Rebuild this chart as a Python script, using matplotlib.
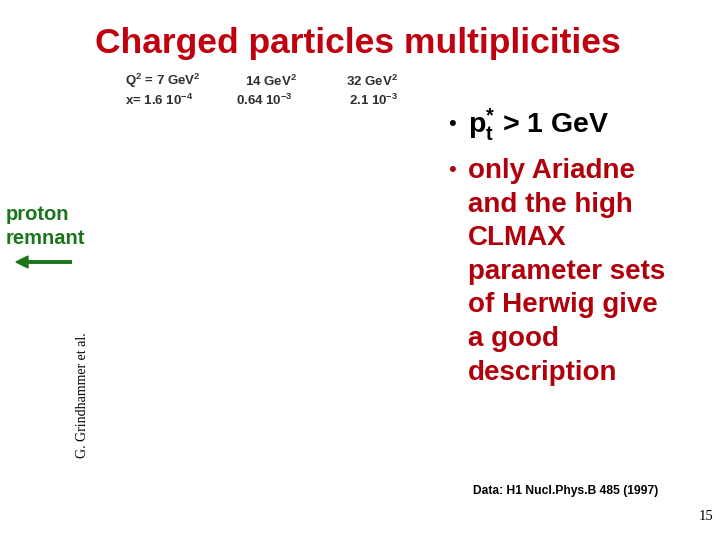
import matplotlib
matplotlib.use('Agg')
import matplotlib.pyplot as plt

W, H = 720, 540

TITLE = 'Charged particles multiplicities'
Q2_LABELS = [r'Q$^{2}$ = 7 GeV$^{2}$', r'14 GeV$^{2}$', r'32 GeV$^{2}$']
X_LABELS = [r'x= 1.6 10$^{-4}$', r'0.64 10$^{-3}$', r'2.1 10$^{-3}$']
BULLET_1 = r'$\mathbf{p^{*}_{t}}$ > 1 GeV'
BULLET_2 = ['only Ariadne', 'and the high', 'CLMAX', 'parameter sets',
            'of Herwig give', 'a good', 'description']
REMNANT = ['proton', 'remnant']
AUTHOR = 'G. Grindhammer et al.'
SOURCE = 'Data: H1 Nucl.Phys.B 485 (1997)'
PAGE = '15'

RED = '#c0000f'
DARKRED = '#b0000c'
GREEN = '#1b761b'
SANS = ['Liberation Sans', 'DejaVu Sans']
SERIF = ['Liberation Serif', 'DejaVu Serif']

plt.rcParams['mathtext.fontset'] = 'custom'
plt.rcParams['mathtext.bf'] = 'Liberation Sans:bold'
plt.rcParams['mathtext.rm'] = 'Liberation Sans:bold'
plt.rcParams['mathtext.default'] = 'rm'


def px(x, y):
    # pixel coords (top-left origin) -> figure fraction
    return x / W, 1 - y / H


fig = plt.figure(figsize=(7.2, 5.4), dpi=100)
fig.patch.set_facecolor('white')

fig.text(*px(358, 44), TITLE, ha='center', va='center', fontsize=25.5,
         fontweight='bold', color=RED, family=SANS)

q2_x = [125, 245, 346]
xl_x = [125, 236, 349]
for i in range(3):
    fig.text(*px(q2_x[i], 81), Q2_LABELS[i], ha='left', va='center', fontsize=9.5,
             fontweight='bold', color='#303030', family=SANS)
    fig.text(*px(xl_x[i], 100), X_LABELS[i], ha='left', va='center', fontsize=9.5,
             fontweight='bold', color='#303030', family=SANS)

fig.text(*px(448, 125), '\u2022', ha='left', va='center', fontsize=16,
         color='black', family=SANS)
fig.text(*px(468, 125), BULLET_1, ha='left', va='center', fontsize=20.5,
         fontweight='bold', color='black', family=SANS)

fig.text(*px(448, 171), '\u2022', ha='left', va='center', fontsize=16,
         color=DARKRED, family=SANS)
for i, line in enumerate(BULLET_2):
    fig.text(*px(468, 171 + i * 33.6), line, ha='left', va='center', fontsize=20,
             fontweight='bold', color=DARKRED, family=SANS)

for i, line in enumerate(REMNANT):
    fig.text(*px(6, 215 + i * 23.5), line, ha='left', va='center', fontsize=14.5,
             fontweight='bold', color=GREEN, family=SANS)
fig.add_artist(plt.Line2D([20 / W, 72 / W], [1 - 262 / H, 1 - 262 / H],
                          color=GREEN, lw=2.8, solid_capstyle='butt'))
fig.patches.append(matplotlib.patches.FancyArrow(
    28 / W, 1 - 262 / H, -12 / W, 0, width=0, head_width=12 / H,
    head_length=12 / W, length_includes_head=True, color=GREEN,
    transform=fig.transFigure, figure=fig))

fig.text(*px(83, 395), AUTHOR, ha='center', va='center', rotation=90,
         fontsize=10, color='black', family=SERIF)

fig.text(*px(566, 491), SOURCE, ha='center', va='center', fontsize=8.7,
         fontweight='bold', color='black', family=SANS)
fig.text(*px(713, 516), PAGE, ha='right', va='center', fontsize=10.5,
         color='black', family=SERIF)

fig.savefig('out.png', dpi=100)
